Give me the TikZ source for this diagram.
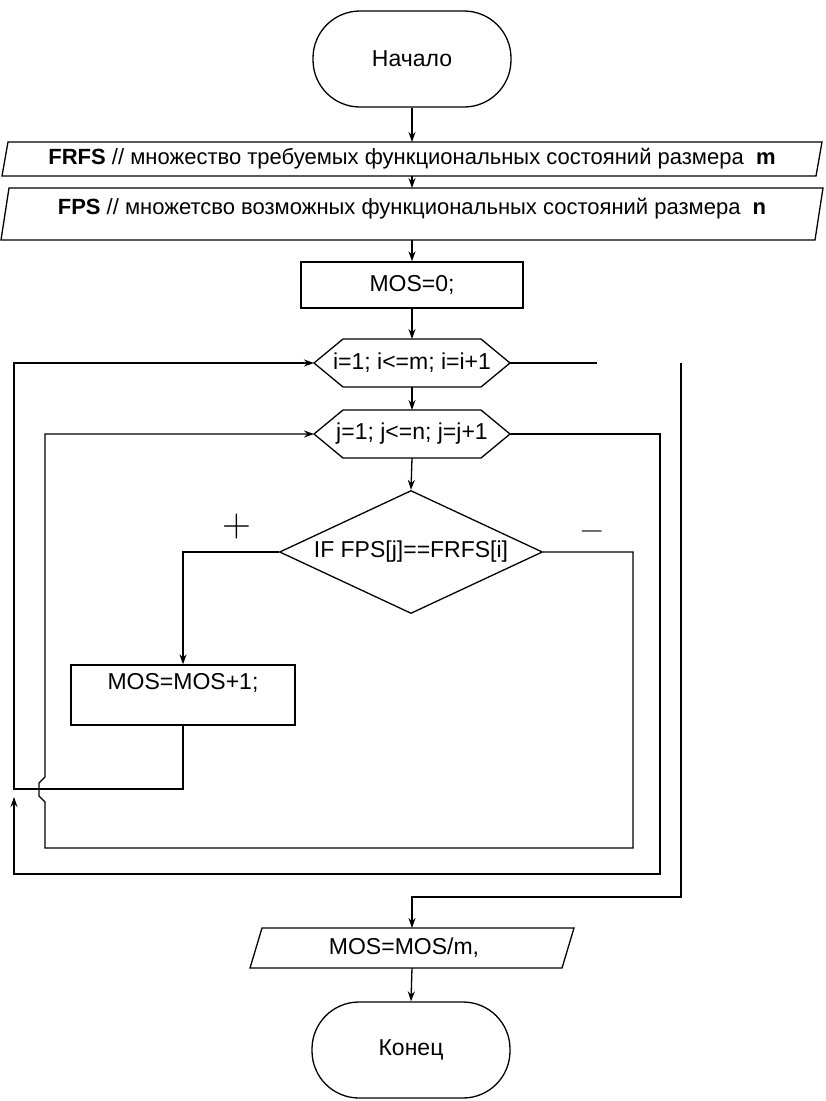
\documentclass[tikz,border=0pt]{standalone}
\usepackage{fontspec}
\setmainfont{Liberation Sans}
\newfontfamily\lmfont{Latin Modern Roman}
\usetikzlibrary{shapes.geometric,arrows.meta}
\newcommand\dfont{\fontsize{23}{27}\selectfont}
\newcommand\pfont{\fontsize{22}{26}\selectfont}
\begin{document}
\begin{tikzpicture}[x=1pt,y=-1pt,
  ln/.style={line width=1.3pt},
  arr/.style={ln,-{Stealth[length=10pt,width=7pt]}},
  term/.style={draw,ln,rounded corners=47pt,minimum width=198pt,minimum height=96pt,inner sep=0,font=\dfont},
  box/.style={draw,ln,inner sep=0,font=\dfont},
  frame/.style={inner sep=0,outer sep=0,font=\dfont},
  sign/.style={inner sep=0}]
\fill[white] (0,0) rectangle (826,1101);
\useasboundingbox (0,0) rectangle (826,1101);

% nodes
\node[term] (start) at (412,59) {Начало};

\node[frame,minimum width=820pt,minimum height=34pt,font=\pfont] (p1) at (412,159)
  {\textbf{FRFS} // множество требуемых функциональных состояний размера\ \ \textbf{m}};
\draw[ln] ([xshift=6pt]p1.north west) -- (p1.north east) -- ([xshift=-6pt]p1.south east) -- (p1.south west) -- cycle;

\node[frame,minimum width=822pt,minimum height=52pt] (p2) at (412,214) {};
\draw[ln] ([xshift=8pt]p2.north west) -- (p2.north east) -- ([xshift=-8pt]p2.south east) -- (p2.south west) -- cycle;
\node[frame,font=\pfont] (p2t) at ([yshift=5pt]p2.center)
  {\textbf{FPS} // множетсво возможных функциональных состояний размера\ \ \textbf{n}};

\node[box,minimum width=222pt,minimum height=46pt] (mos0) at (412,285) {MOS=0;};

\node[frame,minimum width=196pt,minimum height=48pt] (h1) at (412,363) {i=1; i<=m; i=i+1};
\draw[ln] (h1.west) -- ([xshift=29pt]h1.north west) -- ([xshift=-29pt]h1.north east) -- (h1.east)
  -- ([xshift=-29pt]h1.south east) -- ([xshift=29pt]h1.south west) -- cycle;

\node[frame,minimum width=196pt,minimum height=48pt] (h2) at (412,434) {j=1; j<=n; j=j+1};
\draw[ln] (h2.west) -- ([xshift=29pt]h2.north west) -- ([xshift=-29pt]h2.north east) -- (h2.east)
  -- ([xshift=-29pt]h2.south east) -- ([xshift=29pt]h2.south west) -- cycle;

\node[draw,ln,diamond,shape aspect=2.14,minimum width=263pt,minimum height=123pt,inner sep=0,font=\dfont]
  (dec) at (411,552) {IF FPS[j]==FRFS[i]};

\node[sign,font=\lmfont\fontsize{40}{40}\selectfont] (plus) at (237,527) {+};
\node[sign,font=\lmfont\fontsize{32}{32}\selectfont] (minus) at (592,535) {−};

\node[box,minimum width=224pt,minimum height=60pt] (inc) at (183,695) {};
\node[frame] (inct) at ([yshift=12pt]inc.center) {MOS=MOS+1;};

\node[frame,minimum width=324pt,minimum height=40pt] (p3) at (412,948) {};
\draw[ln] ([xshift=12pt]p3.north west) -- (p3.north east) -- ([xshift=-12pt]p3.south east) -- (p3.south west) -- cycle;
\node[frame] (p3t) at ([xshift=-8pt]p3.center) {MOS=MOS/m,};

\node[term] (end) at (411,1050) {Конец};

\coordinate (gapL) at (597,363);
\coordinate (gapR) at (681,363);

% connectors
\draw[arr] (start.south) -- (p1.north);
\draw[arr] (p1.south) -- (p2.north);
\draw[arr] (p2.south) -- (mos0.north);
\draw[arr] (mos0.south) -- (h1.north);
\draw[arr] (h1.south) -- (h2.north);
\draw[arr] (h2.south) -- (dec.north);
\draw[arr] (dec.west) -| (inc.north);
\draw[arr] (inc.south) |- (14,789) |- (h1.west);
\draw[arr] (h2.east) -| (660,874) -| (14,797);
\draw[arr] (dec.east) -| (633,848) -- (45,848) -- (45,802) -- (39,796) -- (39,783) -- (45,777) |- (h2.west);
\draw[ln] (h1.east) -- (gapL);
\draw[arr] (gapR) -- (681,897) -| (p3.north);
\draw[arr] (p3.south) -- (end.north);
\end{tikzpicture}
\end{document}
